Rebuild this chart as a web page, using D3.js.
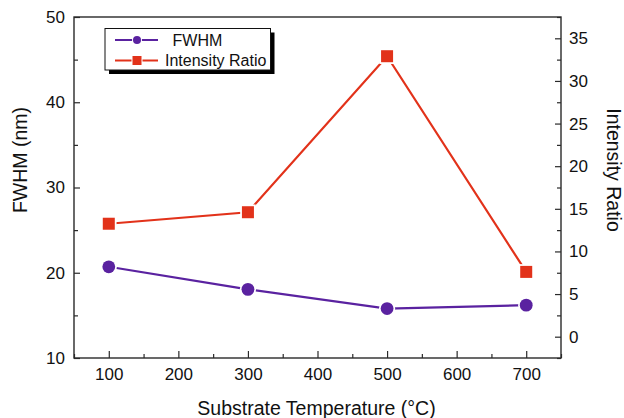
<!DOCTYPE html>
<html>
<head>
<meta charset="utf-8">
<script src="https://cdn.jsdelivr.net/npm/d3@7"></script>
<style>
  html, body { margin: 0; padding: 0; background: #fff; }
  svg { display: block; font-family: "Liberation Sans", Arial, Helvetica, sans-serif; }
</style>
</head>
<body>
<svg id="chart" width="624" height="418"></svg>
<script>
// Substrate temperature (°C)
const temperatures = [100, 300, 500, 700];
// FWHM (nm), left axis
const fwhm = [20.7, 18.05, 15.8, 16.2];
// Intensity ratio, right axis
const intensityRatio = [13.25, 14.6, 32.9, 7.6];

const xTicks = [100, 200, 300, 400, 500, 600, 700];
const yLeftTicks = [10, 20, 30, 40, 50];
const yRightTicks = [0, 5, 10, 15, 20, 25, 30, 35];

const purple = "#5a22a0";
const red = "#e2321a";
const axisColor = "#2a2a2a";

const svg = d3.select("#chart");
const plot = { left: 74, right: 561, top: 17, bottom: 358 };

const x = d3.scaleLinear().domain([50, 750]).range([plot.left, plot.right]);
const yL = d3.scaleLinear().domain([10, 50]).range([plot.bottom, plot.top]);
const yR = d3.scaleLinear().domain([-2.5, 37.5]).range([plot.bottom, plot.top]);

// Minor ticks
const minor = (axis, vals) => axis.tickValues(vals).tickSize(-4).tickFormat("");
svg.append("g").attr("transform", `translate(0,${plot.bottom})`)
  .call(minor(d3.axisBottom(x), d3.range(50, 751, 100)));
svg.append("g").attr("transform", `translate(${plot.left},0)`)
  .call(minor(d3.axisLeft(yL), d3.range(15, 50, 10)));
svg.append("g").attr("transform", `translate(${plot.right},0)`)
  .call(minor(d3.axisRight(yR), d3.range(-2.5, 37.6, 5)));

// Major ticks with labels
svg.append("g").attr("transform", `translate(0,${plot.bottom})`)
  .call(d3.axisBottom(x).tickValues(xTicks).tickSize(-7).tickPadding(10).tickFormat(d3.format("d")));
svg.append("g").attr("transform", `translate(${plot.left},0)`)
  .call(d3.axisLeft(yL).tickValues(yLeftTicks).tickSize(-6).tickPadding(9).tickFormat(d3.format("d")));
svg.append("g").attr("transform", `translate(${plot.right},0)`)
  .call(d3.axisRight(yR).tickValues(yRightTicks).tickSize(-6).tickPadding(8).tickFormat(d3.format("d")));

svg.selectAll(".domain").remove();
svg.selectAll(".tick line").attr("stroke", axisColor).attr("stroke-width", 1.2);
svg.selectAll(".tick text").attr("font-size", 17).attr("fill", "#111")
  .attr("font-family", "Liberation Sans, Arial, sans-serif");

// Frame
svg.append("rect")
  .attr("x", plot.left).attr("y", plot.top)
  .attr("width", plot.right - plot.left).attr("height", plot.bottom - plot.top)
  .attr("fill", "none").attr("stroke", axisColor).attr("stroke-width", 1.4);

// Axis titles
svg.append("text")
  .attr("x", (plot.left + plot.right) / 2 - 1).attr("y", 415)
  .attr("text-anchor", "middle").attr("font-size", 19.5).attr("fill", "#111")
  .text("Substrate Temperature (°C)");
svg.append("text")
  .attr("transform", `translate(27,160) rotate(-90)`)
  .attr("text-anchor", "middle").attr("font-size", 19.5).attr("fill", "#111")
  .text("FWHM (nm)");
svg.append("text")
  .attr("transform", `translate(607,170) rotate(90)`)
  .attr("text-anchor", "middle").attr("font-size", 19.5).attr("fill", "#111")
  .text("Intensity Ratio");

// Series
const fwhmData = temperatures.map((t, i) => ({ t, v: fwhm[i] }));
const ratioData = temperatures.map((t, i) => ({ t, v: intensityRatio[i] }));

svg.append("path").datum(ratioData)
  .attr("fill", "none").attr("stroke", red).attr("stroke-width", 2.2)
  .attr("d", d3.line().x(d => x(d.t)).y(d => yR(d.v)));
svg.append("path").datum(fwhmData)
  .attr("fill", "none").attr("stroke", purple).attr("stroke-width", 2.2)
  .attr("d", d3.line().x(d => x(d.t)).y(d => yL(d.v)));

const sq = 12;
svg.append("g").selectAll("rect").data(ratioData).join("rect")
  .attr("x", d => x(d.t) - sq / 2).attr("y", d => yR(d.v) - sq / 2)
  .attr("width", sq).attr("height", sq)
  .attr("fill", red).attr("stroke", "#fff").attr("stroke-width", 3.5)
  .attr("paint-order", "stroke");
svg.append("g").selectAll("circle").data(fwhmData).join("circle")
  .attr("cx", d => x(d.t)).attr("cy", d => yL(d.v)).attr("r", 6.4)
  .attr("fill", purple).attr("stroke", "#fff").attr("stroke-width", 3.5)
  .attr("paint-order", "stroke");

// Legend with drop shadow
const lg = svg.append("g");
const box = { x: 105, y: 28.5, w: 165.5, h: 41.5 };
lg.append("rect").attr("x", box.x + 4).attr("y", box.y + 4)
  .attr("width", box.w).attr("height", box.h).attr("fill", "#000");
lg.append("rect").attr("x", box.x).attr("y", box.y)
  .attr("width", box.w).attr("height", box.h)
  .attr("fill", "#fff").attr("stroke", "#111").attr("stroke-width", 1);

const legendItems = [
  { name: "FWHM", color: purple, shape: "circle", y: 40, tx: 172.5 },
  { name: "Intensity Ratio", color: red, shape: "square", y: 60.5, tx: 165 }
];
legendItems.forEach(it => {
  lg.append("line").attr("x1", 115).attr("x2", 158).attr("y1", it.y).attr("y2", it.y)
    .attr("stroke", it.color).attr("stroke-width", 2);
  if (it.shape === "circle") {
    lg.append("circle").attr("cx", 137).attr("cy", it.y).attr("r", 4)
      .attr("fill", it.color).attr("stroke", "#fff").attr("stroke-width", 2).attr("paint-order", "stroke");
  } else {
    lg.append("rect").attr("x", 137 - 4.5).attr("y", it.y - 4.5).attr("width", 9).attr("height", 9)
      .attr("fill", it.color).attr("stroke", "#fff").attr("stroke-width", 2).attr("paint-order", "stroke");
  }
  lg.append("text").attr("x", it.tx).attr("y", it.y + 5.5)
    .attr("font-size", 16).attr("fill", "#111").text(it.name);
});
</script>
</body>
</html>
